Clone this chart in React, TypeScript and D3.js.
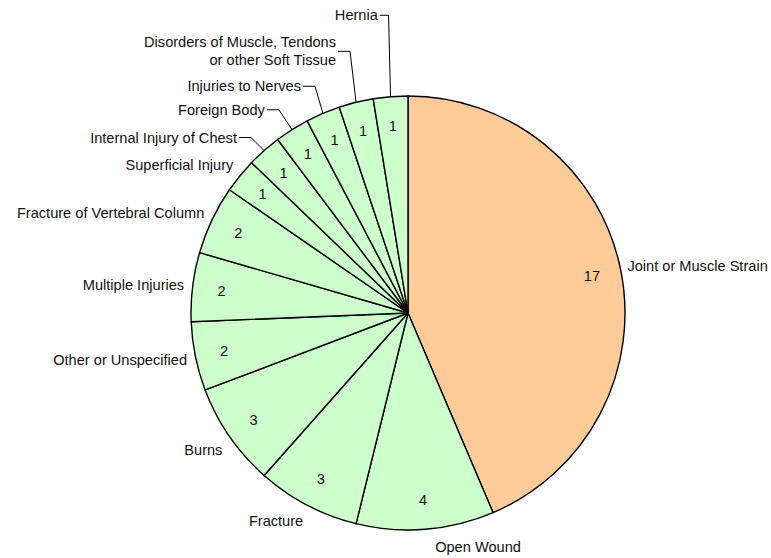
import * as d3 from 'd3';
import React, { useEffect, useRef } from 'react';

const categories = [
    'Joint or Muscle Strain',
    'Open Wound',
    'Fracture',
    'Burns',
    'Other or Unspecified',
    'Multiple Injuries',
    'Fracture of Vertebral Column',
    'Superficial Injury',
    'Internal Injury of Chest',
    'Foreign Body',
    'Injuries to Nerves',
    'Disorders of Muscle, Tendons\nor other Soft Tissue',
    'Hernia',
];
const counts = [17, 4, 3, 3, 2, 2, 2, 1, 1, 1, 1, 1, 1];

// label nudges (px) for labels that were dragged away from the pie, with leader lines
const labelNudge: { [k: number]: [number, number] } = {
    0: [-1.5, 0],
    1: [9, 0],
    3: [0, 4],
    8: [-21.5, 0],
    9: [-22.6, -5],
    10: [-18.6, -11],
    11: [-18, -34],
    12: [-12, -64],
};
const leaderFor = [8, 9, 10, 11, 12];

const App: React.FC = () => {
    const svgRef = useRef<SVGSVGElement | null>(null);

    useEffect(() => {
        const width = 771;
        const height = 558;
        const cx = 408;
        const cy = 313;
        const radius = 217;

        d3.select(svgRef.current).selectAll('*').remove();

        const svg = d3
            .select(svgRef.current)
            .attr('width', width)
            .attr('height', height);

        const g = svg.append('g').attr('transform', `translate(${cx},${cy})`);

        const data = categories.map((c, i) => ({ name: c, value: counts[i], i }));

        const pie = d3
            .pie<{ name: string; value: number; i: number }>()
            .sort(null)
            .value(d => d.value)
            .startAngle(0)
            .endAngle(2 * Math.PI);

        const arcs = pie(data);
        const arc = d3.arc<d3.PieArcDatum<any>>().innerRadius(0).outerRadius(radius);

        g.selectAll('.slice')
            .data(arcs)
            .enter()
            .append('path')
            .attr('class', 'slice')
            .attr('d', arc as any)
            .attr('fill', d => (d.index === 0 ? '#FFCC99' : '#CCFFCC'))
            .attr('stroke', '#000')
            .attr('stroke-width', 1.4)
            .attr('stroke-linejoin', 'round');

        const font = '"Liberation Sans", Arial, sans-serif';
        const fs = 14.6;
        const mid = (d: d3.PieArcDatum<any>) => (d.startAngle + d.endAngle) / 2;

        // values inside
        g.selectAll('.val')
            .data(arcs)
            .enter()
            .append('text')
            .attr('class', 'val')
            .attr('x', d => Math.sin(mid(d)) * radius * 0.865)
            .attr('y', d => -Math.cos(mid(d)) * radius * 0.865)
            .attr('dy', '0.35em')
            .attr('text-anchor', 'middle')
            .attr('font-family', font)
            .attr('font-size', fs)
            .attr('fill', '#111')
            .text(d => d.data.value);

        // category labels outside
        const R = radius + 8.5;
        arcs.forEach(d => {
            const a = mid(d);
            const s = Math.sin(a);
            const c = Math.cos(a);
            const nudge = labelNudge[d.index] || [0, 0];
            const x = s * R + nudge[0];
            const yc = -c * R - c * 9 + nudge[1];
            const lines = d.data.name.split('\n');
            const anchor = s >= 0 ? 'start' : 'end';
            const lh = 18;
            const t = g
                .append('text')
                .attr('font-family', font)
                .attr('font-size', fs)
                .attr('fill', '#111')
                .attr('text-anchor', anchor);
            lines.forEach((ln, k) => {
                t.append('tspan')
                    .attr('x', x)
                    .attr('y', yc + (k - (lines.length - 1) / 2) * lh)
                    .attr('dy', '0.35em')
                    .text(ln);
            });

            if (leaderFor.includes(d.index)) {
                const ex = s * radius;
                const ey = -c * radius;
                const x0 = x + 2;
                const bx = Math.min(x0 + 12, ex - 2);
                g.append('polyline')
                    .attr('points', `${x0},${yc} ${bx},${yc} ${ex},${ey}`)
                    .attr('fill', 'none')
                    .attr('stroke', '#000')
                    .attr('stroke-width', 1);
            }
        });
    }, []);

    return (
        <svg
            ref={svgRef}
            style={{ position: 'absolute', left: 0, top: 0, background: '#fff' }}
        ></svg>
    );
};

export default App;
